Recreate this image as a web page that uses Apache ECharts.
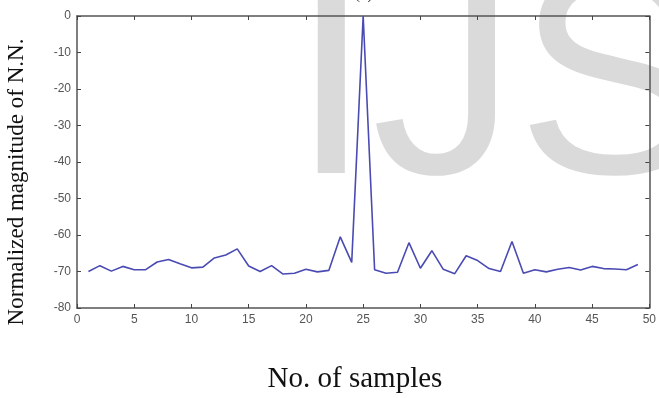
<!DOCTYPE html>
<html>
<head>
<meta charset="utf-8">
<script src="https://cdn.jsdelivr.net/npm/echarts@6/dist/echarts.min.js"></script>
<style>html,body{margin:0;padding:0;background:#fff;}#c{width:659px;height:398px;}</style>
</head>
<body>
<div id="c"></div>
<script>
const samples = [1,2,3,4,5,6,7,8,9,10,11,12,13,14,15,16,17,18,19,20,21,22,23,24,25,26,27,28,29,30,31,32,33,34,35,36,37,38,39,40,41,42,43,44,45,46,47,48,49];
const magnitude = [-70,-68.4,-69.9,-68.6,-69.5,-69.5,-67.4,-66.7,-67.9,-69,-68.8,-66.3,-65.5,-63.8,-68.5,-70,-68.4,-70.7,-70.5,-69.4,-70.1,-69.7,-60.5,-67.5,0,-69.5,-70.5,-70.2,-62.1,-69.1,-64.3,-69.4,-70.6,-65.7,-67,-69.2,-70,-61.8,-70.5,-69.5,-70.1,-69.4,-68.9,-69.6,-68.6,-69.2,-69.3,-69.5,-68.1];
const xTicks = [0,5,10,15,20,25,30,35,40,45,50];
const yTicks = [0,-10,-20,-30,-40,-50,-60,-70,-80];
const xTitle = 'No. of samples';
const yTitle = 'Normalized magnitude of N.N.';

const chart = echarts.init(document.getElementById('c'), null, {renderer:'canvas'});
const axisLine = {show:true, onZero:false, lineStyle:{color:'#555', width:1.5}};
const tick = {show:true, inside:true, length:4, lineStyle:{color:'#444', width:1}};
const lbl = {color:'#555', fontFamily:'Liberation Sans, Arial, sans-serif', fontSize:12};
chart.setOption({
  animation:false,
  backgroundColor:'#fff',
  graphic:[
    {type:'text', z:-10, left:291, top:-52, style:{text:'IJS', font:'290px "Liberation Sans", Arial, sans-serif', fill:'#dadada'}},
    {type:'text', left:355, top:-12, style:{text:'(b)', font:'15px "Liberation Serif", serif', fill:'#333'}},
    {type:'text', x:17, y:182, rotation:Math.PI/2,
     style:{x:0, y:0, text:yTitle, font:'23px "Liberation Serif", "Times New Roman", serif', fill:'#111', align:'center', verticalAlign:'middle'}},
    {type:'text', x:355, y:379,
     style:{x:0, y:0, text:xTitle, font:'29px "Liberation Serif", "Times New Roman", serif', fill:'#111', align:'center', verticalAlign:'middle'}}
  ],
  grid:{left:77, right:7, top:16, bottom:90, containLabel:false},
  xAxis:[
    {type:'value', min:0, max:50, interval:5, position:'bottom', axisLine, axisTick:tick, splitLine:{show:false},
     axisLabel:{...lbl, margin:6, formatter:v=>xTicks.includes(v)?String(v):''}},
    {type:'value', min:0, max:50, interval:5, position:'top', axisLine, axisTick:tick, axisLabel:{show:false}, splitLine:{show:false}}
  ],
  yAxis:[
    {type:'value', min:-80, max:0, interval:10, position:'left', axisLine, axisTick:tick, splitLine:{show:false},
     axisLabel:{...lbl, margin:6, formatter:v=>yTicks.includes(v)?String(v):''}},
    {type:'value', min:-80, max:0, interval:10, position:'right', axisLine, axisTick:tick, axisLabel:{show:false}, splitLine:{show:false}}
  ],
  series:[{
    type:'line', xAxisIndex:0, yAxisIndex:0, symbol:'none', z:5,
    lineStyle:{color:'#4a4ab3', width:1.6},
    data: samples.map((s,i)=>[s, magnitude[i]])
  }]
});
</script>
</body>
</html>
